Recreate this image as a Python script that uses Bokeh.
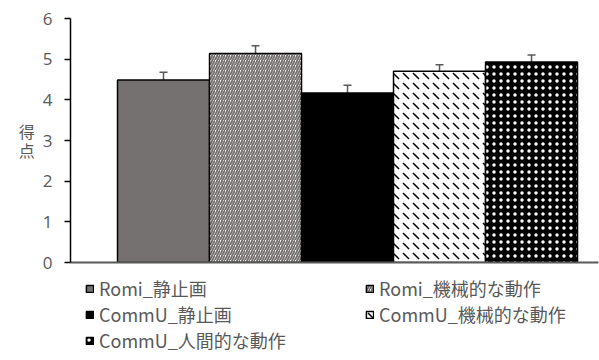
from bokeh.plotting import figure
from bokeh.layouts import column
from bokeh.models import ColumnDataSource, Whisker, TeeHead, Legend, LegendItem, FixedTicker, Range1d
from bokeh.embed import file_html
from bokeh.resources import INLINE

labels = ["Romi_静止画", "Romi_機械的な動作", "CommU_静止画", "CommU_機械的な動作", "CommU_人間的な動作"]
means = [4.49, 5.14, 4.17, 4.70, 4.93]
errors = [0.19, 0.19, 0.19, 0.16, 0.17]
y_ticks = [0, 1, 2, 3, 4, 5, 6]

fills = ["#767171", "white", "black", "white", "black"]
hatches = [None, "right_diagonal_line", None, "left_diagonal_dash", "dot"]
hatch_colors = ["black", "#767171", "black", "black", "white"]
hatch_scales = [6, 5, 6, 10, 7]
hatch_weights = [1, 1.9, 1, 1.5, 1.6]

xs = list(range(len(labels)))


def bar_style(i):
    kw = dict(fill_color=fills[i], line_color="black", line_width=1.5)
    if hatches[i]:
        kw.update(hatch_pattern=hatches[i], hatch_color=hatch_colors[i],
                  hatch_scale=hatch_scales[i], hatch_weight=hatch_weights[i])
    return kw


p = figure(width=599, height=274, x_range=(-1.011, 4.728), y_range=(0, 6),
           output_backend="svg", toolbar_location=None,
           min_border_left=70, min_border_right=1, min_border_top=18, min_border_bottom=12)
p.outline_line_color = None
p.xgrid.visible = False
p.ygrid.visible = False

for i in xs:
    src = ColumnDataSource(dict(x=[xs[i]], top=[means[i]]))
    p.vbar(x="x", top="top", bottom=0, width=1.0, source=src, **bar_style(i))

esrc = ColumnDataSource(dict(x=xs, upper=[m + e for m, e in zip(means, errors)],
                             lower=[m - e for m, e in zip(means, errors)]))
w = Whisker(base="x", upper="upper", lower="lower", source=esrc,
            line_color="#595959", line_width=1.5,
            upper_head=TeeHead(size=8, line_color="#595959", line_width=1.5),
            lower_head=TeeHead(size=8, line_color="#595959", line_width=1.5))
p.add_layout(w)

p.yaxis.ticker = FixedTicker(ticks=y_ticks)
p.yaxis.minor_tick_line_color = None
p.yaxis.major_tick_out = 6
p.yaxis.major_tick_in = 0
p.yaxis.major_tick_line_color = "black"
p.yaxis.major_tick_line_width = 1.5
p.yaxis.axis_line_color = "black"
p.yaxis.axis_line_width = 1.5
p.yaxis.major_label_text_font = "Open Sans"
p.yaxis.major_label_text_font_size = "17px"
p.yaxis.major_label_text_color = "#595959"
p.yaxis.major_label_standoff = 12
p.yaxis.axis_label = "得\n点"
p.yaxis.axis_label_orientation = "horizontal"
p.yaxis.axis_label_text_font = "Noto Sans CJK JP"
p.yaxis.axis_label_text_font_size = "16px"
p.yaxis.axis_label_text_font_style = "normal"
p.yaxis.axis_label_text_color = "#595959"
p.yaxis.axis_label_text_line_height = 0.8
p.yaxis.axis_label_standoff = 5

p.xaxis.ticker = FixedTicker(ticks=[])
p.xaxis.major_label_text_font_size = "0px"
p.xaxis.axis_line_color = "#595959"
p.xaxis.axis_line_width = 2
p.xaxis.major_tick_line_color = None
p.xaxis.minor_tick_line_color = None

# legend figure
lf = figure(width=599, height=86, x_range=Range1d(0, 1), y_range=Range1d(0, 1),
            output_backend="svg", toolbar_location=None,
            x_axis_type=None, y_axis_type=None,
            min_border_left=0, min_border_right=0, min_border_top=0, min_border_bottom=0)
lf.outline_line_color = None
lf.xgrid.visible = False
lf.ygrid.visible = False
leg_renderers = []
for i in xs:
    src = ColumnDataSource(dict(x=[xs[i]], top=[means[i]]))
    r = lf.vbar(x="x", top="top", bottom=0, width=1.0, source=src, **bar_style(i))
    r.visible = False
    leg_renderers.append(r)

order = [0, 2, 4, 1, 3]
items = [LegendItem(label=labels[i], renderers=[leg_renderers[i]]) for i in order]
legend = Legend(items=items, ncols=2, location=(15, 7),
                label_text_font="Noto Sans CJK JP", label_text_font_size="18px",
                label_text_color="#595959", glyph_width=9, glyph_height=9,
                label_standoff=5, label_height=25, label_width=266, spacing=0,
                padding=0, margin=0, border_line_color=None,
                background_fill_alpha=0, inactive_fill_alpha=0, click_policy="none")
lf.add_layout(legend, "center")

layout = column(p, lf, spacing=0)
open("out.html", "w").write(file_html(layout, INLINE))
